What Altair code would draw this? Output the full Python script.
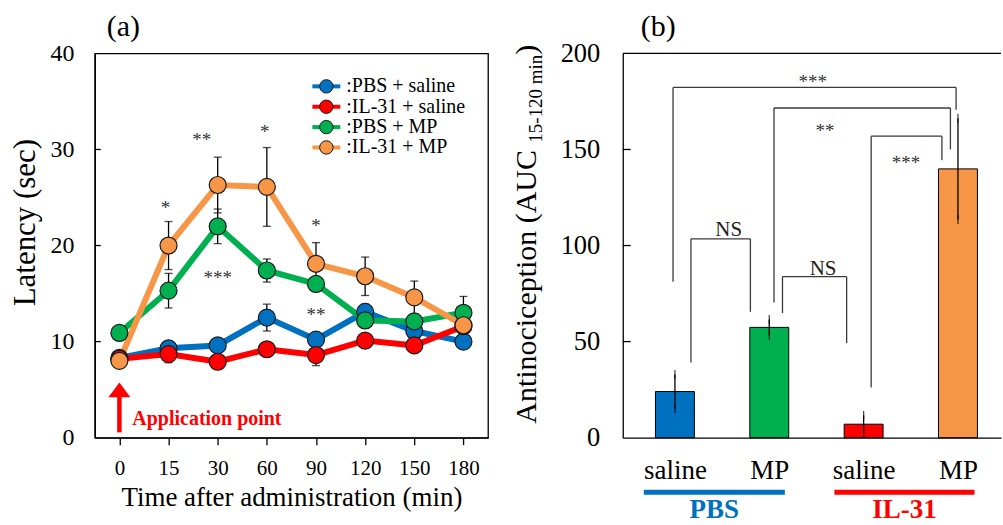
import json
import altair as alt
import pandas as pd

FONT = "Liberation Serif"

# ---------------- (a) latency time course ----------------
times = ["0", "15", "30", "60", "90", "120", "150", "180"]
series = ["PBS + saline", "IL-31 + saline", "PBS + MP", "IL-31 + MP"]
series_colors = ["#0070C0", "#FF0000", "#00B050", "#F79646"]

pbs_saline_mean = [8.3, 9.3, 9.6, 12.5, 10.2, 13.1, 11.1, 10.0]
pbs_saline_sem = [0.5, 0.5, 0.5, 1.4, 0.6, 0.8, 0.6, 0.5]
il31_saline_mean = [8.2, 8.7, 7.9, 9.2, 8.6, 10.1, 9.6, 11.6]
il31_saline_sem = [0.5, 0.9, 0.6, 0.5, 1.1, 0.5, 0.6, 0.5]
pbs_mp_mean = [10.9, 15.3, 22.0, 17.4, 16.0, 12.2, 12.1, 13.0]
pbs_mp_sem = [0.4, 1.8, 1.8, 1.2, 0.5, 0.6, 0.8, 1.7]
il31_mp_mean = [8.0, 20.0, 26.3, 26.1, 18.1, 16.8, 14.6, 11.7]
il31_mp_sem = [0.4, 2.5, 2.9, 4.1, 2.2, 2.0, 1.7, 0.5]

# significance marks (time point, height in seconds)
sig_a_text = ["*", "**", "*", "*", "***", "**"]
sig_a_time = ["15", "30", "60", "90", "30", "90"]
sig_a_y = [24.4, 31.5, 32.3, 22.6, 17.1, 13.3]

# ---------------- (b) AUC bars ----------------
bar_groups = ["PBS saline", "PBS MP", "IL-31 saline", "IL-31 MP"]
bar_labels = ["saline", "MP", "saline", "MP"]
bar_colors = ["#0070C0", "#00B050", "#FF0000", "#F79646"]
auc_mean = [24.0, 57.4, 7.0, 139.9]
auc_sem = [8.9, 4.1, 4.6, 26.3]

treat_names = ["PBS", "IL-31"]
treat_colors = ["#0070C0", "#FF0000"]

# pairwise comparisons: bar indices, bracket heights, significance text
cmp_label = ["***", "**", "***", "NS", "NS"]
cmp_from = [0, 1, 2, 0, 1]
cmp_to = [3, 3, 3, 1, 2]
cmp_top = [182.3, 171.6, 156.9, 103.5, 83.8]
cmp_from_end = [81.2, 70.3, 26.1, 39.1, 64.8]
cmp_to_end = [170.7, 150.0, 144.4, 65.5, 49.2]

# ---------------------------------------------------------
W_A, H = 394, 385
W_B = 379
PX_PER_BAR = 97.1


def panel_label(text, dx):
    return (alt.Chart(pd.DataFrame({"t": [text]}))
            .mark_text(font=FONT, fontSize=30, color="black", align="left",
                       baseline="alphabetic")
            .encode(x=alt.value(dx), y=alt.value(-17), text="t:N"))


rows = []
for name, means, sems in zip(
    series,
    [pbs_saline_mean, il31_saline_mean, pbs_mp_mean, il31_mp_mean],
    [pbs_saline_sem, il31_saline_sem, pbs_mp_sem, il31_mp_sem],
):
    for t, m, s in zip(times, means, sems):
        rows.append({"time": t, "tnum": int(t), "series": name,
                     "mean": m, "lo": m - s, "hi": m + s})
lat = pd.DataFrame(rows)

x_a = alt.X(
    "time:N", sort=times, scale=alt.Scale(type="point", padding=0.5),
    axis=alt.Axis(title="Time after administration (min)", labelAngle=0,
                  labelFontSize=21, labelPadding=13, tickSize=7, tickWidth=1.3,
                  domainWidth=1.3, titleFontSize=27, titlePadding=6),
)
y_axis_a = alt.Axis(
    values=[0, 10, 20, 30, 40], title="Latency (sec)", tickSize=0,
    labelPadding=21, labelFontSize=24, domainWidth=1.3,
    titleFontSize=31, titleAngle=270, titleX=-60.5, titleY=169,
    titleAlign="center", titleBaseline="alphabetic",
)


def ya(field):
    return alt.Y(field, type="quantitative",
                 scale=alt.Scale(domain=[0, 40], nice=False), axis=y_axis_a)


color_a = alt.Color("series:N", scale=alt.Scale(domain=series, range=series_colors),
                    legend=None)

base_a = alt.Chart(lat)
layers_a = []
for s in series:
    layers_a.append(
        base_a.transform_filter(alt.datum.series == s)
        .mark_line(strokeWidth=6)
        .encode(x=x_a, y=ya("mean"), color=color_a, order=alt.Order("tnum:Q"))
    )
layers_a.append(base_a.mark_rule(color="black", strokeWidth=1.3)
                .encode(x=x_a, y=ya("lo"), y2="hi:Q"))
layers_a.append(base_a.mark_tick(color="black", size=8, thickness=1.3)
                .encode(x=x_a, y=ya("lo")))
layers_a.append(base_a.mark_tick(color="black", size=8, thickness=1.3)
                .encode(x=x_a, y=ya("hi")))
for s in series:
    layers_a.append(
        base_a.transform_filter(alt.datum.series == s)
        .mark_circle(size=290, opacity=1, stroke="#1a1a1a", strokeWidth=1.2)
        .encode(x=x_a, y=ya("mean"), color=color_a)
    )

# inner tick marks on the left frame
ticks_a = pd.DataFrame({"v": [10, 20, 30]})
layers_a.append(alt.Chart(ticks_a).mark_rule(color="black", strokeWidth=1.3)
                .encode(y=ya("v"), x=alt.value(0), x2=alt.value(6)))

# significance asterisks (two of them sit slightly left of their time point)
sig_a = pd.DataFrame({"time": sig_a_time, "label": sig_a_text, "y": sig_a_y})
sig_shift = [-3, -16, -2, 0, 0, 0]
for i in range(len(sig_a)):
    layers_a.append(
        alt.Chart(sig_a.iloc[[i]]).mark_text(font=FONT, fontSize=19, color="#333",
                                             baseline="middle", dy=5, dx=sig_shift[i])
        .encode(x=x_a, y=ya("y"), text="label:N")
    )

# legend drawn inside the frame
leg = pd.DataFrame({"series": series, "label": [":" + s for s in series],
                    "row": list(range(len(series)))})
leg_base = alt.Chart(leg).transform_calculate(ly="36.57 - 2.12 * datum.row")
layers_a.append(leg_base.mark_rule(strokeWidth=4)
                .encode(x=alt.value(218), x2=alt.value(246), y=ya("ly"), color=color_a))
layers_a.append(leg_base.mark_circle(size=180, opacity=1, stroke="#1a1a1a", strokeWidth=1)
                .encode(x=alt.value(232), y=ya("ly"), color=color_a))
layers_a.append(leg_base.mark_text(font=FONT, fontSize=20, color="black", align="left",
                                   baseline="middle")
                .encode(x=alt.value(252), y=ya("ly"), text="label:N"))

# application arrow at t = 0
app = pd.DataFrame({"time": ["0"], "y0": [0.55], "y1": [4.6], "ty": [1.97],
                    "label": ["Application point"]})
layers_a.append(alt.Chart(app).mark_rule(color="#FF0000", strokeWidth=4.5)
                .encode(x=x_a, y=ya("y0"), y2="y1:Q"))
layers_a.append(alt.Chart(app).mark_point(shape="M-1,0.35L0,-1L1,0.35Z", size=484,
                                          filled=True, color="#FF0000", opacity=1)
                .encode(x=x_a, y=ya("y1")))
layers_a.append(alt.Chart(app).mark_text(font=FONT, fontSize=20, fontWeight="bold",
                                         color="#FF0000", align="left", baseline="middle",
                                         dx=13)
                .encode(x=x_a, y=ya("ty"), text="label:N"))

layers_a.append(panel_label("(a)", 12))

panel_a = alt.layer(*layers_a).properties(
    width=W_A, height=H,
    view=alt.ViewBackground(stroke="black", strokeWidth=1.3),
)

# ---------------- panel (b) ----------------
auc = pd.DataFrame({"pos": list(range(len(bar_groups))), "group": bar_groups,
                    "mean": auc_mean, "col": bar_colors})
auc["lo"] = auc["mean"] - pd.Series(auc_sem)
auc["hi"] = auc["mean"] + pd.Series(auc_sem)

x_max = -0.5 + W_B / PX_PER_BAR
x_scale_b = alt.Scale(domain=[-0.5, x_max], nice=False, zero=False)
x_axis_b = alt.Axis(values=[0, 1, 2, 3],
                    labelExpr=json.dumps(bar_labels) + "[datum.value]",
                    title=None, tickSize=0, labelPadding=20, labelFontSize=27,
                    domainWidth=1.3, labelFlush=False)
y_axis_b = alt.Axis(values=[0, 50, 100, 150, 200], title=None, tickSize=0,
                    labelPadding=23, labelFontSize=26.5, domainWidth=1.3)


def xb(field):
    return alt.X(field, type="quantitative", scale=x_scale_b, axis=x_axis_b)


def yb(field):
    return alt.Y(field, type="quantitative",
                 scale=alt.Scale(domain=[0, 200], nice=False), axis=y_axis_b)


layers_b = []
layers_b.append(alt.Chart(auc).mark_bar(size=39, stroke="black", strokeWidth=1)
                .encode(x=xb("pos"), y=yb("mean"),
                        color=alt.Color("col:N", scale=None, legend=None)))
layers_b.append(alt.Chart(auc).mark_rule(color="black", strokeWidth=1.3)
                .encode(x=xb("pos"), y=yb("lo"), y2="hi:Q"))
layers_b.append(alt.Chart(auc).mark_tick(color="black", size=9, thickness=1.3)
                .encode(x=xb("pos"), y=yb("lo")))
layers_b.append(alt.Chart(auc).mark_tick(color="black", size=9, thickness=1.3)
                .encode(x=xb("pos"), y=yb("hi")))

# top frame line and inner ticks
ticks_b = pd.DataFrame({"v": [50, 100, 150]})
layers_b.append(alt.Chart(ticks_b).mark_rule(color="black", strokeWidth=1.3)
                .encode(y=yb("v"), x=alt.value(0), x2=alt.value(8)))
layers_b.append(alt.Chart(pd.DataFrame({"v": [200]})).mark_rule(color="black", strokeWidth=1.3)
                .encode(y=yb("v"), x=alt.value(0), x2=alt.value(W_B)))

# comparison brackets
leg_in_l = [-0.02, 0.05, 0.08, 0.17, 0.14]
leg_in_r = [-0.02, -0.08, -0.17, -0.20, -0.18]
lab_x = [1.46, 1.59, 2.45, 0.57, 1.57]
lab_y = [187.5, 162.0, 145.6, 108.0, 87.8]
brk = pd.DataFrame({
    "x1": [a + d for a, d in zip(cmp_from, leg_in_l)],
    "x2": [b + d for b, d in zip(cmp_to, leg_in_r)],
    "top": cmp_top, "e1": cmp_from_end, "e2": cmp_to_end,
    "label": cmp_label, "lx": lab_x, "ly": lab_y,
})
brk_style = dict(color="#3a3a3a", strokeWidth=1.3)

layers_b.append(alt.Chart(brk).mark_rule(**brk_style)
                .encode(x=xb("x1"), y=yb("e1"), y2="top:Q"))
layers_b.append(alt.Chart(brk).mark_rule(**brk_style)
                .encode(x=xb("x2"), y=yb("e2"), y2="top:Q"))
layers_b.append(alt.Chart(brk).mark_rule(**brk_style)
                .encode(x=xb("x1"), x2="x2:Q", y=yb("top")))
layers_b.append(alt.Chart(brk).transform_filter("datum.label != 'NS'")
                .mark_text(font=FONT, fontSize=19, color="#333", baseline="middle", dy=5)
                .encode(x=xb("lx"), y=yb("ly"), text="label:N"))
layers_b.append(alt.Chart(brk).transform_filter("datum.label == 'NS'")
                .mark_text(font=FONT, fontSize=21, color="#222", baseline="middle")
                .encode(x=xb("lx"), y=yb("ly"), text="label:N"))

# treatment underlines and names below the category labels
treat = pd.DataFrame({"name": treat_names, "col": treat_colors,
                      "s": [0 - 0.33, 2 - 0.31], "e": [1 + 0.165, 3 + 0.175]})
treat["m"] = (treat["s"] + treat["e"]) / 2
color_t = alt.Color("col:N", scale=None, legend=None)
layers_b.append(alt.Chart(treat).mark_rule(strokeWidth=5)
                .encode(x=xb("s"), x2="e:Q", y=alt.value(439.7), color=color_t))
layers_b.append(alt.Chart(treat).mark_text(font=FONT, fontSize=27, fontWeight="bold",
                                           baseline="alphabetic")
                .encode(x=xb("m"), y=alt.value(466), text="name:N", color=color_t))

# y title with a subscript
layers_b.append(alt.Chart(pd.DataFrame({"t": ["Antinociception (AUC"]}))
                .mark_text(font=FONT, fontSize=30, angle=270, align="left",
                           baseline="alphabetic", color="black")
                .encode(x=alt.value(-86.7), y=alt.value(371), text="t:N"))
layers_b.append(alt.Chart(pd.DataFrame({"t": ["15-120 min"]}))
                .mark_text(font=FONT, fontSize=19, angle=270, align="left",
                           baseline="alphabetic", color="black")
                .encode(x=alt.value(-81), y=alt.value(89.4), text="t:N"))
layers_b.append(alt.Chart(pd.DataFrame({"t": [")"]}))
                .mark_text(font=FONT, fontSize=30, angle=270, align="left",
                           baseline="alphabetic", color="black")
                .encode(x=alt.value(-86.7), y=alt.value(1.3), text="t:N"))

layers_b.append(panel_label("(b)", 18))

panel_b = alt.layer(*layers_b).properties(width=W_B, height=H)

chart = (
    alt.hconcat(panel_a, panel_b, spacing=22)
    .properties(padding={"left": 8, "top": 11, "right": 0, "bottom": 0},
                background="white")
    .configure_view(stroke="transparent")
    .configure_axis(labelFont=FONT, titleFont=FONT, labelColor="black",
                    titleColor="black", domainColor="black", tickColor="black",
                    grid=False, titleFontWeight="normal")
)

chart.save("out.html", embed_options={"renderer": "svg", "actions": False})
